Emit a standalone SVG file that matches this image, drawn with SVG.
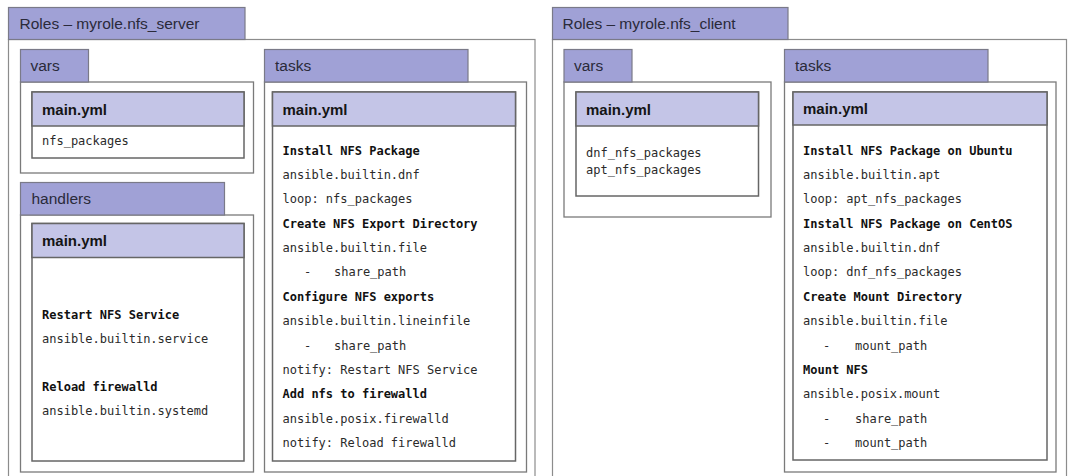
<svg xmlns="http://www.w3.org/2000/svg" width="1078" height="476" viewBox="0 0 1078 476">
<style>
.bg{fill:#ffffff}
.outer{fill:#ffffff;stroke:#8c8c8c;stroke-width:1.2}
.box{fill:#ffffff;stroke:#7a7a7a;stroke-width:1.3}
.tab{fill:#a0a1d6;stroke:#7a7a88;stroke-width:1.2}
.file{fill:#ffffff;stroke:#666666;stroke-width:1.5}
.hdr{fill:#c4c5e7;stroke:#666666;stroke-width:1.5}
.tl{font-family:"Liberation Sans",Arial,sans-serif;font-size:15.5px;fill:#2a2a3a}
.hl{font-family:"Liberation Sans",Arial,sans-serif;font-size:15px;font-weight:bold;fill:#151515}
.m{font-family:"DejaVu Sans Mono","Liberation Mono",monospace;font-size:12px;fill:#2a2a2a}
.b{font-weight:bold;fill:#111111}
</style>
<rect class="bg" x="0" y="0" width="1078" height="476"/>

<g id="role-nfs-server">
  <rect class="outer" x="8.5" y="39.5" width="526.5" height="450"/>
  <rect class="tab" x="8.5" y="7.5" width="236.5" height="32"/>
  <text class="tl" x="19.5" y="29">Roles – myrole.nfs_server</text>
</g>

<g id="server-vars">
  <rect class="box" x="20.5" y="82" width="233" height="91"/>
  <rect class="tab" x="20.5" y="49.5" width="68" height="32.5"/>
  <text class="tl" x="30.5" y="71">vars</text>
  <rect class="file" x="32" y="92" width="212" height="66"/>
  <rect class="hdr" x="32" y="92" width="212" height="34"/>
  <text class="hl" x="42" y="114.5">main.yml</text>
  <text class="m" x="42" y="145">nfs_packages</text>
</g>

<g id="server-handlers">
  <rect class="box" x="20.5" y="215" width="233" height="257"/>
  <rect class="tab" x="20.5" y="182.5" width="204" height="32.5"/>
  <text class="tl" x="31.5" y="204">handlers</text>
  <rect class="file" x="32" y="223.5" width="212" height="237.5"/>
  <rect class="hdr" x="32" y="223.5" width="212" height="34"/>
  <text class="hl" x="42" y="246">main.yml</text>
  <text class="m b" x="42" y="318.5">Restart NFS Service</text>
  <text class="m" x="42" y="342.5">ansible.builtin.service</text>
  <text class="m b" x="42" y="390.5">Reload firewalld</text>
  <text class="m" x="42" y="415">ansible.builtin.systemd</text>
</g>

<g id="server-tasks">
  <rect class="box" x="264.5" y="82" width="262" height="390"/>
  <rect class="tab" x="264.5" y="49.5" width="203.5" height="32.5"/>
  <text class="tl" x="275" y="71">tasks</text>
  <rect class="file" x="272.5" y="92" width="243" height="369"/>
  <rect class="hdr" x="272.5" y="92" width="243" height="34"/>
  <text class="hl" x="282.5" y="114.5">main.yml</text>
  <text class="m b" x="282.5" y="154.5">Install NFS Package</text>
  <text class="m" x="282.5" y="178.9">ansible.builtin.dnf</text>
  <text class="m" x="282.5" y="203.3">loop: nfs_packages</text>
  <text class="m b" x="282.5" y="227.6">Create NFS Export Directory</text>
  <text class="m" x="282.5" y="252">ansible.builtin.file</text>
  <text class="m" y="276.4"><tspan x="304">-</tspan><tspan x="334">share_path</tspan></text>
  <text class="m b" x="282.5" y="300.8">Configure NFS exports</text>
  <text class="m" x="282.5" y="325.1">ansible.builtin.lineinfile</text>
  <text class="m" y="349.5"><tspan x="304">-</tspan><tspan x="334">share_path</tspan></text>
  <text class="m" x="282.5" y="373.9">notify: Restart NFS Service</text>
  <text class="m b" x="282.5" y="398.3">Add nfs to firewalld</text>
  <text class="m" x="282.5" y="422.6">ansible.posix.firewalld</text>
  <text class="m" x="282.5" y="447">notify: Reload firewalld</text>
</g>

<g id="role-nfs-client">
  <rect class="outer" x="552.5" y="39.5" width="514" height="450"/>
  <rect class="tab" x="552.5" y="7.5" width="235.5" height="32"/>
  <text class="tl" x="562.5" y="29">Roles – myrole.nfs_client</text>
</g>

<g id="client-vars">
  <rect class="box" x="564" y="82" width="207" height="135"/>
  <rect class="tab" x="564" y="49.5" width="68" height="32.5"/>
  <text class="tl" x="574" y="71">vars</text>
  <rect class="file" x="576" y="92" width="182.5" height="104"/>
  <rect class="hdr" x="576" y="92" width="182.5" height="34"/>
  <text class="hl" x="586" y="114.5">main.yml</text>
  <text class="m" x="586" y="156.5">dnf_nfs_packages</text>
  <text class="m" x="586" y="173.5">apt_nfs_packages</text>
</g>

<g id="client-tasks">
  <rect class="box" x="784.5" y="82" width="271.5" height="390"/>
  <rect class="tab" x="784.5" y="49.5" width="203.5" height="32.5"/>
  <text class="tl" x="795" y="71">tasks</text>
  <rect class="file" x="793" y="92" width="254" height="368"/>
  <rect class="hdr" x="793" y="92" width="254" height="33"/>
  <text class="hl" x="803" y="114">main.yml</text>
  <text class="m b" x="803" y="154.5">Install NFS Package on Ubuntu</text>
  <text class="m" x="803" y="178.9">ansible.builtin.apt</text>
  <text class="m" x="803" y="203.3">loop: apt_nfs_packages</text>
  <text class="m b" x="803" y="227.6">Install NFS Package on CentOS</text>
  <text class="m" x="803" y="252">ansible.builtin.dnf</text>
  <text class="m" x="803" y="276.4">loop: dnf_nfs_packages</text>
  <text class="m b" x="803" y="300.8">Create Mount Directory</text>
  <text class="m" x="803" y="325.1">ansible.builtin.file</text>
  <text class="m" y="349.5"><tspan x="823">-</tspan><tspan x="855">mount_path</tspan></text>
  <text class="m b" x="803" y="373.9">Mount NFS</text>
  <text class="m" x="803" y="398.3">ansible.posix.mount</text>
  <text class="m" y="422.6"><tspan x="823">-</tspan><tspan x="855">share_path</tspan></text>
  <text class="m" y="447"><tspan x="823">-</tspan><tspan x="855">mount_path</tspan></text>
</g>

<g id="connectors"></g>
</svg>
